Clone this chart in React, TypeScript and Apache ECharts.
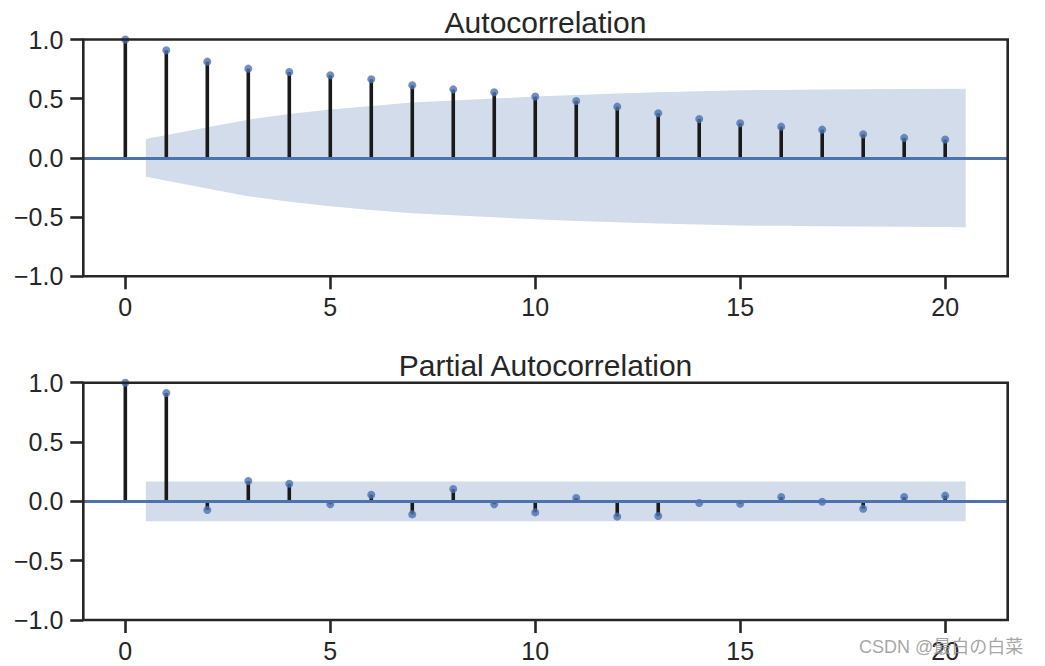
import React, { useEffect, useRef } from "react";
import * as echarts from "echarts";

// ---- data ----
const lags = [0, 1, 2, 3, 4, 5, 6, 7, 8, 9, 10, 11, 12, 13, 14, 15, 16, 17, 18, 19, 20];
const acfValues = [1.0, 0.909, 0.813, 0.754, 0.726, 0.698, 0.664, 0.613, 0.579, 0.554, 0.518, 0.481, 0.433, 0.377, 0.329, 0.292, 0.264, 0.239, 0.199, 0.169, 0.155];
const pacfValues = [1.0, 0.913, -0.073, 0.171, 0.149, -0.025, 0.056, -0.110, 0.104, -0.025, -0.093, 0.028, -0.129, -0.124, -0.014, -0.020, 0.037, -0.003, -0.062, 0.037, 0.048];
// confidence band x positions (first/last shifted by half a lag) and half-widths
const bandLags = [0.5, 2, 3, 4, 5, 6, 7, 8, 9, 10, 11, 12, 13, 14, 15, 16, 17, 18, 19, 20.5];
const acfBand = [0.160, 0.259, 0.323, 0.371, 0.408, 0.439, 0.467, 0.484, 0.501, 0.518, 0.532, 0.543, 0.554, 0.563, 0.571, 0.574, 0.577, 0.580, 0.582, 0.585];
const pacfBand = [0.167, 0.167, 0.167, 0.167, 0.167, 0.167, 0.167, 0.167, 0.167, 0.167, 0.167, 0.167, 0.167, 0.167, 0.167, 0.167, 0.167, 0.167, 0.167, 0.167];
const xTicks = [0, 5, 10, 15, 20];
const xMin = -1.025;
const xMax = 21.525;
const titles = ["Autocorrelation", "Partial Autocorrelation"];
const watermark = "CSDN @最白の白菜";

const FONT = "'Liberation Sans', Arial, Helvetica, sans-serif";
const TEXT = "#262626";
const BLUE = "#4c72b0";
const BAND = "#d2dceb";

const grids = [
  { left: 83.3, top: 39.5, width: 924.4, height: 236.8 },
  { left: 83.3, top: 382.7, width: 924.4, height: 237.3 },
];

function fmtY(v: number) {
  return v.toFixed(1).replace("-", "\u2212");
}

export default function App() {
  const ref = useRef<HTMLDivElement>(null);
  useEffect(() => {
    if (!ref.current) return;
    const chart = echarts.init(ref.current, undefined, { renderer: "svg" });
    const datasets = [
      { vals: acfValues, band: acfBand },
      { vals: pacfValues, band: pacfBand },
    ];
    const series: any[] = [];
    datasets.forEach((d, i) => {
      // band
      series.push({
        type: "custom",
        xAxisIndex: i,
        yAxisIndex: i,
        z: 1,
        silent: true,
        data: [[0, 0]],
        renderItem: (params: any, api: any) => {
          const up = bandLags.map((x, k) => api.coord([x, d.band[k]]));
          const lo = bandLags.map((x, k) => api.coord([x, -d.band[k]])).reverse();
          return {
            type: "polygon",
            shape: { points: up.concat(lo) },
            style: { fill: BAND },
          };
        },
      });
      // stems
      series.push({
        type: "custom",
        xAxisIndex: i,
        yAxisIndex: i,
        z: 2,
        silent: true,
        data: lags.map((l, k) => [l, d.vals[k]]),
        renderItem: (params: any, api: any) => {
          const p0 = api.coord([api.value(0), 0]);
          const p1 = api.coord([api.value(0), api.value(1)]);
          return {
            type: "line",
            shape: { x1: p0[0], y1: p0[1], x2: p1[0], y2: p1[1] },
            style: { stroke: "#1a1a1a", lineWidth: 3.6 },
          };
        },
      });
      // zero line
      series.push({
        type: "scatter",
        xAxisIndex: i,
        yAxisIndex: i,
        z: 3,
        silent: true,
        data: [],
        markLine: {
          silent: true,
          symbol: "none",
          label: { show: false },
          lineStyle: { color: BLUE, width: 3, type: "solid" },
          data: [{ yAxis: 0 }],
        },
      });
      // markers
      series.push({
        type: "scatter",
        xAxisIndex: i,
        yAxisIndex: i,
        z: 4,
        silent: true,
        clip: true,
        symbol: "circle",
        symbolSize: 8,
        itemStyle: { color: BLUE },
        data: lags.map((l, k) => [l, d.vals[k]]),
      });
    });

    const option: any = {
      animation: false,
      backgroundColor: "#ffffff",
      grid: grids.map((g) => ({
        ...g,
        show: true,
        z: 10,
        backgroundColor: "transparent",
        borderColor: TEXT,
        borderWidth: 2.6,
        containLabel: false,
        outerBoundsMode: "none",
      })),
      xAxis: grids.map((g, i) => ({
        type: "value",
        gridIndex: i,
        position: "bottom",
        min: xMin,
        max: xMax,
        axisLine: { show: false, onZero: false },
        splitLine: { show: false },
        axisTick: {
          show: true,
          customValues: xTicks,
          length: 13,
          lineStyle: { color: TEXT, width: 2.6 },
        },
        axisLabel: {
          show: true,
          customValues: xTicks,
          fontSize: 25,
          fontFamily: FONT,
          color: TEXT,
          margin: 18,
          formatter: (v: number) => String(v),
        },
      })),
      yAxis: grids.map((g, i) => ({
        type: "value",
        gridIndex: i,
        position: "left",
        min: -1,
        max: 1,
        interval: 0.5,
        axisLine: { show: false, onZero: false },
        splitLine: { show: false },
        axisTick: {
          show: true,
          length: 13,
          lineStyle: { color: TEXT, width: 2.6 },
        },
        axisLabel: {
          fontSize: 25,
          fontFamily: FONT,
          color: TEXT,
          margin: 20,
          formatter: (v: number) => fmtY(v),
        },
      })),
      graphic: [
        ...grids.map((g, i) => ({
          type: "text",
          x: g.left + g.width / 2,
          y: g.top - 17.2,
          z: 20,
          style: {
            text: titles[i],
            font: `30px ${FONT}`,
            fill: TEXT,
            textAlign: "center",
            textVerticalAlign: "middle",
          },
        })),
        {
          type: "text",
          x: 859,
          y: 646.5,
          z: 30,
          style: {
            text: watermark,
            font: `18px 'Liberation Sans', 'Noto Sans CJK SC', sans-serif`,
            fill: "rgba(150,150,150,0.85)",
            textAlign: "left",
            textVerticalAlign: "middle",
          },
        },
      ],
      series,
    };
    chart.setOption(option);
    return () => chart.dispose();
  }, []);
  return (
    <div
      ref={ref}
      style={{ position: "absolute", left: 0, top: 0, width: 1045, height: 666 }}
    />
  );
}
